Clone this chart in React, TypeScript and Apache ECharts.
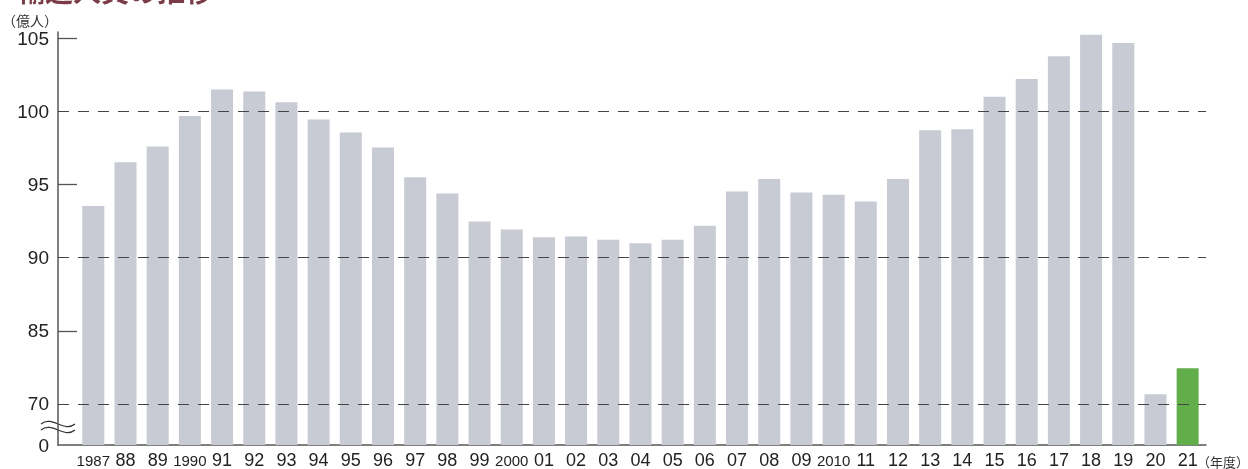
import React, { useEffect, useRef } from "react";
import * as echarts from "echarts";

// Fiscal years (x-axis labels)
const years = [
  "1987", "88", "89", "1990", "91", "92", "93", "94", "95", "96", "97", "98", "99",
  "2000", "01", "02", "03", "04", "05", "06", "07", "08", "09", "2010", "11", "12",
  "13", "14", "15", "16", "17", "18", "19", "20", "21",
];

// Passengers (億人)
const passengers = [
  93.53, 96.52, 97.6, 99.68, 101.49, 101.36, 100.63, 99.44, 98.55, 97.54, 95.5, 94.39, 92.48,
  91.92, 91.4, 91.45, 91.22, 90.99, 91.22, 92.19, 94.52, 95.38, 94.45, 94.3, 93.84, 95.38,
  98.71, 98.78, 101.0, 102.22, 103.78, 105.25, 104.68, 72.0, 77.3,
];

// Y tick labels (displayed values)
const yTickValues = [70, 85, 90, 95, 100, 105];
const yDashedValues = [70, 90, 100];
const ySolidTickValues = [85, 95, 105];

// Broken axis: the 70–85 segment is compressed (15 units drawn as 5)
const toAxis = (v: number) => (v >= 85 ? v : 80 + (v - 70) / 3);
const AXIS_MIN = 77.19;
const AXIS_MAX = 105.43;

const GRAY = "#c8cad4";
const GREEN = "#62ae4a";

export default function App() {
  const ref = useRef<HTMLDivElement>(null);

  useEffect(() => {
    if (!ref.current) return;
    const chart = echarts.init(ref.current, null, { renderer: "svg" });

    const labelMap: Record<string, string> = {};
    yTickValues.forEach((v) => (labelMap[toAxis(v).toFixed(2)] = String(v)));
    labelMap[AXIS_MIN.toFixed(2)] = "0";

    const numFont = "'Liberation Sans', Arial, Helvetica, sans-serif";

    chart.setOption({
      animation: false,
      grid: { left: 58, right: 42, top: 32, bottom: 21, containLabel: false },
      xAxis: {
        type: "value",
        min: -1.097,
        max: 34.57,
        splitLine: { show: false },
        axisTick: { show: false },
        axisLine: { show: true, onZero: false, lineStyle: { color: "#555", width: 1.5 } },
        axisLabel: {
          customValues: years.map((_, i) => i),
          margin: 6,
          color: "#222",
          fontSize: 18,
          fontFamily: numFont,
          formatter: (v: number) => {
            const s = years[Math.round(v)] ?? "";
            return s.length === 4 ? `{n|${s}}` : s;
          },
          rich: {
            n: { fontFamily: numFont, fontSize: 15, color: "#222", padding: [2, 0, 0, 0] },
          },
        },
      },
      yAxis: {
        type: "value",
        min: AXIS_MIN,
        max: AXIS_MAX,
        splitLine: { show: false },
        axisLine: { show: true, onZero: false, lineStyle: { color: "#555", width: 1.5 } },
        axisTick: {
          show: true,
          inside: true,
          length: 19,
          customValues: ySolidTickValues.map(toAxis),
          lineStyle: { color: "#555", width: 1.3 },
        },
        axisLabel: {
          customValues: [AXIS_MIN, ...yTickValues.map(toAxis)],
          margin: 9,
          color: "#222",
          fontSize: 19,
          fontFamily: numFont,
          formatter: (v: number) => labelMap[v.toFixed(2)] ?? "",
        },
      },
      series: [
        {
          type: "bar",
          barWidth: 22,
          data: passengers.map((v, i) => ({
            value: [i, toAxis(v)],
            itemStyle: { color: i === passengers.length - 1 ? GREEN : GRAY },
          })),
          markLine: {
            silent: true,
            symbol: "none",
            label: { show: false },
            lineStyle: { color: "#444", width: 1.2, type: [11, 9] },
            data: yDashedValues.map((v) => ({ yAxis: toAxis(v) })),
          },
        },
      ],
      graphic: [
        {
          type: "text",
          x: 17,
          y: 4,
          style: {
            text: "輸送人員の推移",
            fontSize: 28,
            fontWeight: "bold",
            fill: "#7a3c46",
            fontFamily: "'Noto Sans CJK JP', sans-serif",
            verticalAlign: "bottom",
          },
        },
        {
          type: "text",
          x: 2,
          y: 20,
          style: {
            text: "（億人）",
            fontSize: 14,
            fill: "#333",
            fontFamily: "'Noto Sans CJK JP', sans-serif",
            verticalAlign: "middle",
          },
        },
        {
          type: "text",
          x: 1197,
          y: 461,
          style: {
            text: "（年度）",
            fontSize: 13,
            fill: "#333",
            fontFamily: "'Noto Sans CJK JP', sans-serif",
            verticalAlign: "middle",
          },
        },
        {
          type: "bezierCurve",
          shape: { x1: 41, y1: 424, cpx1: 52, cpy1: 415, cpx2: 64, cpy2: 433, x2: 75, y2: 424 },
          style: { stroke: "#333", lineWidth: 1.2, fill: null },
        },
        {
          type: "bezierCurve",
          shape: { x1: 41, y1: 430, cpx1: 52, cpy1: 421, cpx2: 64, cpy2: 439, x2: 75, y2: 430 },
          style: { stroke: "#333", lineWidth: 1.2, fill: null },
        },
      ],
    });

    return () => chart.dispose();
  }, []);

  return (
    <div
      ref={ref}
      style={{ position: "fixed", left: 0, top: 0, width: 1248, height: 469 }}
    />
  );
}
